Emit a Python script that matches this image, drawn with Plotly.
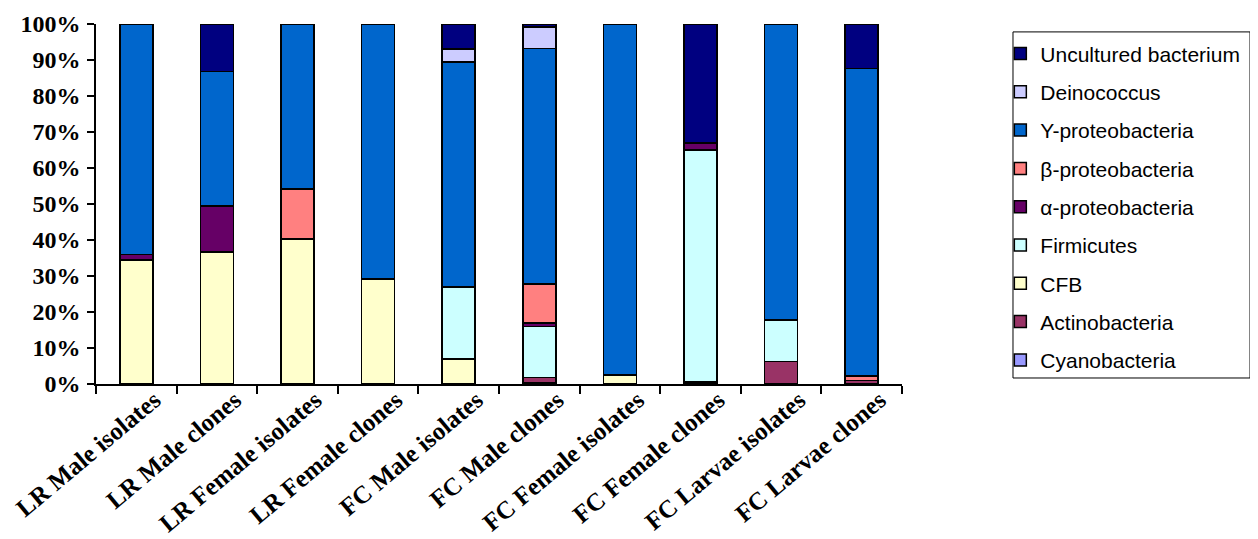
import plotly.graph_objects as go

categories = ["LR Male isolates", "LR Male clones", "LR Female isolates", "LR Female clones",
              "FC Male isolates", "FC Male clones", "FC Female isolates", "FC Female clones",
              "FC Larvae isolates", "FC Larvae clones"]

cyanobacteria   = [0, 0, 0, 0, 0, 0.3, 0, 0, 0, 0]
actinobacteria  = [0, 0, 0, 0, 0, 1.5, 0, 0.6, 6.2, 1.0]
cfb             = [34.5, 36.6, 40.3, 29.1, 6.9, 0, 2.5, 0, 0, 0]
firmicutes      = [0, 0, 0, 0, 20.0, 14.2, 0, 64.4, 11.6, 0]
alpha_proteo    = [1.5, 12.9, 0, 0, 0, 1.0, 0, 2.0, 0, 0]
beta_proteo     = [0, 0, 13.9, 0, 0, 10.8, 0, 0, 0, 1.2]
gamma_proteo    = [64.0, 37.3, 45.8, 70.9, 62.6, 65.4, 97.5, 0, 82.2, 85.5]
deinococcus     = [0, 0, 0, 0, 3.6, 5.9, 0, 0, 0, 0]
uncultured      = [0, 13.2, 0, 0, 6.9, 0.9, 0, 33.0, 0, 12.3]

series_names = ["Cyanobacteria", "Actinobacteria", "CFB", "Firmicutes", "α-proteobacteria",
                "β-proteobacteria", "Y-proteobacteria", "Deinococcus", "Uncultured bacterium"]
series_values = [cyanobacteria, actinobacteria, cfb, firmicutes, alpha_proteo,
                 beta_proteo, gamma_proteo, deinococcus, uncultured]
series_colors = ["#9999FF", "#993366", "#FFFFCC", "#CCFFFF", "#660066",
                 "#FF8080", "#0066CC", "#CCCCFF", "#000080"]

fig = go.Figure()
n = len(series_names)
for i, (name, vals, col) in enumerate(zip(series_names, series_values, series_colors)):
    fig.add_trace(go.Bar(
        x=categories, y=vals, name=name, legendgroup=name,
        legendrank=1000 + (n - i),
        marker=dict(color=col, line=dict(color="black", width=1.5)),
    ))

fig.update_layout(
    barmode="stack",
    bargap=0.59,
    width=1250, height=531,
    margin=dict(l=88, r=356, t=16, b=155),
    paper_bgcolor="white", plot_bgcolor="white",
    showlegend=True,
    legend=dict(
        x=1.122, y=0.974, xanchor="left", yanchor="top",
        traceorder="grouped",
        borderwidth=0, bgcolor="rgba(0,0,0,0)",
        font=dict(family="Liberation Sans, Arial", size=21, color="black"),
        tracegroupgap=8,
        itemwidth=30,
    ),
    shapes=[dict(type="rect", xref="paper", yref="paper",
                 x0=1.1377, x1=1.4318, y0=0.0167, y1=0.978,
                 line=dict(color="black", width=1), fillcolor="rgba(0,0,0,0)")],
    xaxis=dict(
        automargin=False,
        showline=True, linecolor="black", linewidth=1.5,
        ticks="outside", tickson="boundaries", ticklen=8, tickcolor="black", tickwidth=1.5,
        tickangle=-40, ticklabelshift=18, ticklabelstandoff=-10,
        tickfont=dict(family="Liberation Serif, Times New Roman", size=25, color="black", weight="bold"),
        showgrid=False,
    ),
    yaxis=dict(
        automargin=False,
        range=[0, 100], tickvals=[0, 10, 20, 30, 40, 50, 60, 70, 80, 90, 100],
        ticktext=["0%", "10%", "20%", "30%", "40%", "50%", "60%", "70%", "80%", "90%", "100%"],
        showline=True, linecolor="black", linewidth=1.5,
        ticks="outside", ticklen=7, tickcolor="black", tickwidth=1.5,
        ticklabelstandoff=2,
        tickfont=dict(family="Liberation Serif, Times New Roman", size=24, color="black", weight="bold"),
        showgrid=False, zeroline=False,
    ),
)

fig.write_html("out.html")
